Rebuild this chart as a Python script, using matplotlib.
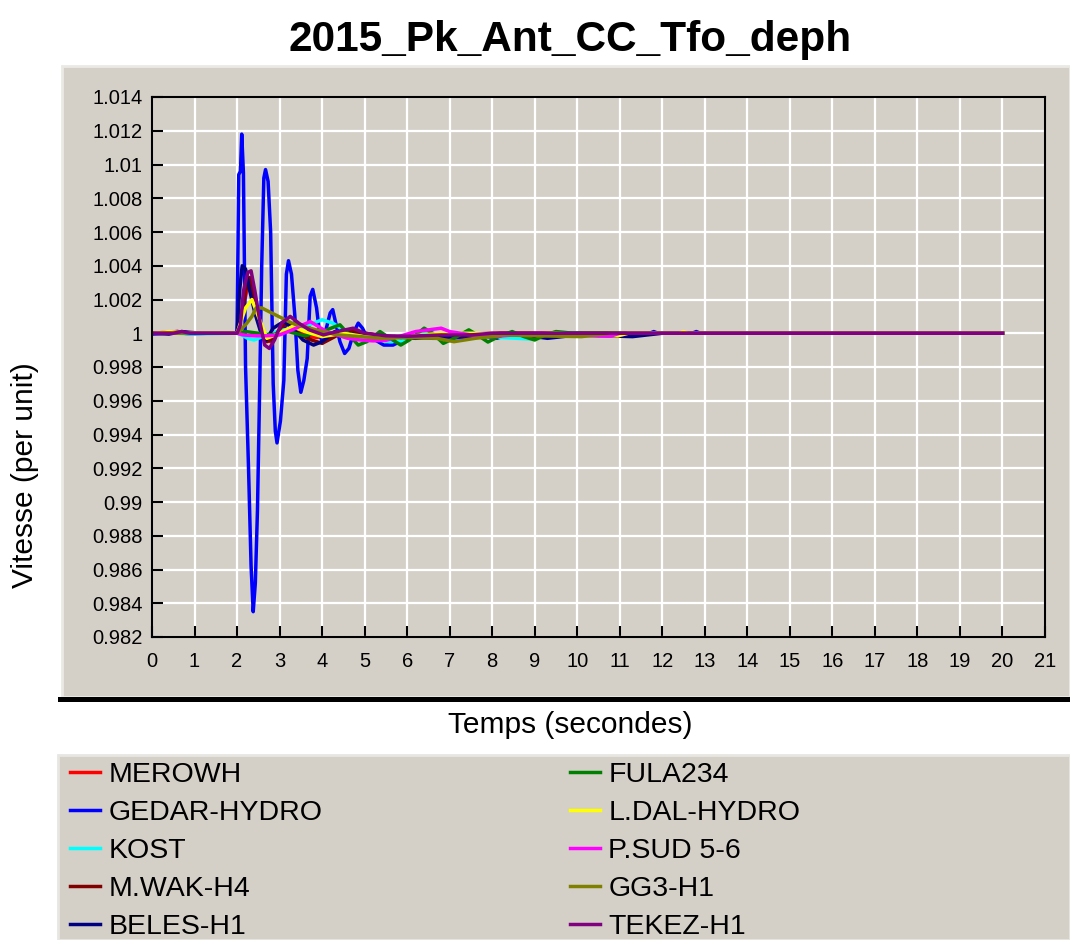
import matplotlib
matplotlib.use('Agg')
import matplotlib.pyplot as plt
from matplotlib.patches import Rectangle

plt.rcParams['font.family'] = ['Liberation Sans', 'DejaVu Sans']

W, H = 1070, 940

title = '2015_Pk_Ant_CC_Tfo_deph'
x_label = 'Temps (secondes)'
y_label = 'Vitesse (per unit)'

x_ticks = list(range(0, 22))
y_ticks = [0.982, 0.984, 0.986, 0.988, 0.99, 0.992, 0.994, 0.996, 0.998, 1.0,
           1.002, 1.004, 1.006, 1.008, 1.01, 1.012, 1.014]
y_tick_labels = ['0.982', '0.984', '0.986', '0.988', '0.99', '0.992', '0.994', '0.996', '0.998', '1',
                 '1.002', '1.004', '1.006', '1.008', '1.01', '1.012', '1.014']

names = ['MEROWH', 'GEDAR-HYDRO', 'KOST', 'M.WAK-H4', 'BELES-H1',
         'FULA234', 'L.DAL-HYDRO', 'P.SUD 5-6', 'GG3-H1', 'TEKEZ-H1']
colors = ['#ff0000', '#0000ff', '#00ffff', '#800000', '#000080',
          '#008000', '#ffff00', '#ff00ff', '#808000', '#800080']

# (time s, speed pu)
merowh = [(0, 1.0), (0.6, 1.0001), (0.9, 1.0), (2.0, 1.0), (2.12, 1.0012), (2.25, 1.0028),
          (2.35, 1.0025), (2.48, 1.0008), (2.65, 0.9996), (2.8, 0.9995), (3.0, 1.0002),
          (3.2, 1.0006), (3.45, 1.0001), (3.7, 0.9998), (3.9, 0.99975), (4.2, 0.9999),
          (4.6, 1.0001), (5.0, 1.0), (5.6, 0.9998), (6.3, 0.99978), (7.0, 0.9999), (8.0, 1.0),
          (20, 1.0)]
gedar = [(0, 0.99995), (0.3, 1.0), (0.6, 1.00005), (0.9, 0.99995), (1.3, 1.0), (2.0, 1.0),
         (2.04, 1.0094), (2.08, 1.0096), (2.11, 1.0118), (2.15, 1.0095), (2.2, 0.998),
         (2.27, 0.992), (2.33, 0.9862), (2.38, 0.9835), (2.43, 0.9852), (2.48, 0.9895),
         (2.53, 0.9965), (2.58, 1.004), (2.63, 1.0092), (2.67, 1.0097), (2.73, 1.009),
         (2.79, 1.006), (2.85, 0.997), (2.9, 0.9942), (2.94, 0.9935), (3.02, 0.9948),
         (3.1, 0.9972), (3.16, 1.0035), (3.21, 1.0043), (3.28, 1.0035), (3.36, 1.001),
         (3.43, 0.9978), (3.5, 0.9965), (3.57, 0.9972), (3.65, 0.9985), (3.72, 1.0022),
         (3.78, 1.0026), (3.87, 1.0015), (3.94, 1.0), (4.01, 0.99943), (4.1, 1.0003),
         (4.19, 1.0012), (4.25, 1.0014), (4.33, 1.0005), (4.42, 0.9995), (4.53, 0.9988),
         (4.63, 0.9991), (4.75, 1.0001), (4.85, 1.0006), (4.95, 1.0003), (5.05, 0.9998),
         (5.25, 0.9996), (5.45, 0.9993), (5.67, 0.9993), (5.9, 0.9996), (6.2, 0.9998),
         (6.6, 0.9997), (7.0, 0.9997), (7.5, 0.9998), (7.9, 0.9998), (8.1, 0.9997),
         (8.4, 0.9999), (9.0, 0.9999), (10.0, 1.0), (10.8, 0.99985), (11.15, 0.99984),
         (11.4, 1.0), (11.7, 1.0), (11.8, 1.0001), (11.9, 1.0), (12.7, 1.0), (12.8, 1.0001),
         (12.9, 1.0), (20, 1.0)]
kost = [(0, 1.0), (0.6, 1.0), (0.9, 0.99995), (2.0, 1.0), (2.1, 0.9999), (2.25, 0.9997),
        (2.4, 0.9996), (2.55, 0.99975), (2.8, 1.0), (3.1, 1.0002), (3.4, 1.0003), (3.7, 1.0005),
        (4.0, 1.0008), (4.25, 1.0006), (4.5, 1.0002), (4.8, 0.9998), (5.2, 0.99965),
        (5.6, 0.9995), (5.9, 0.99955), (6.3, 1.0), (6.5, 1.0001), (6.8, 0.99985), (7.3, 1.0),
        (7.6, 0.9999), (8.2, 0.99975), (8.9, 0.99966), (9.5, 1.00007), (10.0, 1.0),
        (11.0, 0.99985), (11.2, 0.99984), (11.5, 1.0), (20, 1.0)]
mwak = [(0, 1.0), (0.6, 1.0001), (0.9, 1.0), (2.0, 1.0), (2.1, 1.001), (2.2, 1.0025),
        (2.3, 1.0033), (2.4, 1.0022), (2.52, 1.0005), (2.7, 0.9995), (2.85, 0.9997),
        (3.05, 1.0004), (3.25, 1.0006), (3.5, 0.9999), (3.75, 0.9996), (4.0, 0.9994),
        (4.3, 0.9998), (4.6, 1.0002), (5.0, 1.0), (5.5, 0.9998), (6.0, 0.99975), (6.8, 0.9998),
        (7.5, 0.99985), (8.2, 1.0), (20, 1.0)]
beles = [(0, 1.0), (0.4, 0.99995), (0.7, 1.0001), (0.9, 1.00005), (1.2, 1.0), (2.0, 1.0),
         (2.06, 1.0025), (2.12, 1.004), (2.2, 1.0038), (2.3, 1.0025), (2.42, 1.0012),
         (2.54, 1.0002), (2.68, 0.9996), (2.85, 1.0003), (3.1, 1.0007), (3.3, 1.0003),
         (3.55, 0.9996), (3.8, 0.9993), (4.0, 0.9995), (4.3, 1.0001), (4.6, 1.0),
         (4.9, 0.99985), (5.3, 0.9997), (5.7, 0.9998), (6.2, 0.9997), (6.8, 0.9998),
         (7.3, 0.99985), (8.0, 0.9999), (8.5, 1.0), (9.0, 0.9998), (9.3, 0.9997),
         (10.0, 0.9999), (11.3, 0.9998), (12.0, 1.0), (20, 1.0)]
fula = [(0, 1.0), (0.9, 1.0), (2.0, 1.0), (2.2, 1.0001), (2.5, 1.0), (2.8, 0.9999),
        (3.2, 1.0001), (3.6, 0.99985), (4.0, 1.0001), (4.42, 1.0005), (4.6, 1.0),
        (4.85, 0.9993), (5.05, 0.9995), (5.36, 1.0001), (5.6, 0.9997), (5.85, 0.9993),
        (6.05, 0.9996), (6.4, 1.0003), (6.6, 1.0), (6.85, 0.9994), (7.1, 0.9997),
        (7.45, 1.0002), (7.65, 0.9999), (7.9, 0.99948), (8.15, 0.9998), (8.47, 1.0001),
        (8.75, 0.9998), (9.0, 0.9996), (9.25, 0.9999), (9.5, 1.0001), (9.9, 1.0), (20, 1.0)]
ldal = [(0, 1.0), (0.4, 1.0001), (0.9, 1.0), (2.0, 1.0), (2.2, 1.0015), (2.35, 1.002),
        (2.5, 1.001), (2.7, 0.9997), (3.0, 1.0), (3.3, 1.0004), (3.6, 1.0001), (4.0, 0.9998),
        (4.5, 1.0), (5.0, 0.9998), (5.5, 0.99975), (6.0, 0.9998), (6.8, 1.0), (7.6, 1.0),
        (8.3, 0.9999), (9.5, 1.0), (10.95, 0.99984), (11.2, 1.0), (12.4, 1.0), (12.5, 1.0001),
        (12.6, 1.0), (20, 1.0)]
psud = [(0, 1.0), (0.9, 1.0), (2.0, 1.0), (2.15, 0.9999), (2.4, 0.99985), (2.7, 0.99985),
        (3.0, 0.9999), (3.3, 1.0002), (3.55, 1.0005), (3.72, 1.00069), (3.85, 1.0005),
        (4.1, 1.0001), (4.35, 0.9999), (4.6, 0.9997), (4.9, 0.9996), (5.2, 0.99955),
        (5.5, 0.99958), (5.8, 0.9998), (6.2, 1.0001), (6.5, 1.0002), (6.8, 1.0003),
        (7.0, 1.0001), (7.5, 0.9999), (8.0, 0.9998), (8.5, 0.9999), (9.1, 1.0), (9.6, 0.9999),
        (10.5, 0.99984), (10.8, 0.99984), (11.0, 1.0), (20, 1.0)]
gg3 = [(0, 1.0), (0.5, 1.0), (0.9, 1.0), (2.0, 1.0), (2.2, 1.0005), (2.35, 1.001),
       (2.45, 1.0015), (2.58, 1.0015), (3.29, 1.0006), (4.0, 1.0001), (4.4, 0.9999),
       (4.9, 0.9998), (5.4, 0.9997), (6.0, 0.99975), (6.7, 0.9997), (7.1, 0.9995),
       (7.6, 0.9997), (8.3, 0.9999), (9.0, 0.99985), (10.1, 0.9998), (10.8, 1.0), (20, 1.0)]
tekez = [(0, 1.0), (0.5, 1.0), (0.7, 1.0001), (0.9, 1.0), (2.0, 1.0), (2.08, 1.0005),
         (2.15, 1.0025), (2.25, 1.0036), (2.33, 1.0037), (2.42, 1.0025), (2.55, 1.0005),
         (2.65, 0.9993), (2.76, 0.9991), (2.88, 0.9996), (3.05, 1.0006), (3.25, 1.001),
         (3.45, 1.0006), (3.7, 1.0002), (4.03, 0.9999), (4.35, 1.0001), (4.73, 1.0003),
         (5.0, 1.0), (5.5, 0.99985), (6.0, 0.99982), (6.8, 0.9999), (7.5, 0.9999), (8.0, 1.0),
         (20, 1.0)]

series = [merowh, gedar, kost, mwak, beles, fula, ldal, psud, gg3, tekez]

fig = plt.figure(figsize=(W / 100, H / 100), dpi=100)
fig.patch.set_facecolor('white')

# grey window panels, kept behind the axes
fig.patches.append(Rectangle((62 / W, 1 - 697 / H), (W - 62) / W, (697 - 66) / H,
                             transform=fig.transFigure, facecolor='#d4d0c8',
                             edgecolor='#ebe9e4', lw=2, zorder=-10))
fig.patches.append(Rectangle((58 / W, 1 - 702 / H), (W - 58) / W, 5 / H,
                             transform=fig.transFigure, facecolor='black', lw=0, zorder=-10))
fig.patches.append(Rectangle((58 / W, 0), (W - 58) / W, 185 / H,
                             transform=fig.transFigure, facecolor='#d4d0c8',
                             edgecolor='#e8e6e1', lw=2, zorder=-10))

ax = fig.add_axes([152 / W, 1 - 637 / H, 893 / W, 540 / H])
ax.set_facecolor('#d4d0c8')
ax.set_zorder(1)

handles = []
for data, name, c in zip(series, names, colors):
    t = [p[0] for p in data]
    v = [p[1] for p in data]
    line, = ax.plot(t, v, color=c, lw=2.5, label=name)
    handles.append(line)

ax.set_xlim(0, 21)
ax.set_ylim(0.982, 1.014)
ax.set_xticks(x_ticks)
ax.set_yticks(y_ticks)
ax.set_yticklabels(y_tick_labels)
ax.grid(color='white', lw=1.6)
ax.set_axisbelow(True)
ax.tick_params(direction='in', length=8, width=1.5, labelsize=14.5, colors='black')
ax.tick_params(axis='y', pad=7)
ax.tick_params(axis='x', pad=11)
for s in ax.spines.values():
    s.set_linewidth(1.5)
    s.set_color('black')

fig.text(570 / W, 1 - 40 / H, title, ha='center', va='center', fontsize=30.5, fontweight='bold')
fig.text(570 / W, 1 - 725 / H, x_label, ha='center', va='center', fontsize=21.5)
fig.text(25 / W, 1 - 475 / H, y_label, ha='center', va='center', rotation=90, fontsize=21.5)

leg_kw = dict(loc='upper left', frameon=False, fontsize=20.5, handlelength=1.05,
              handletextpad=0.3, labelspacing=0.42, borderpad=0, borderaxespad=0)
fig.legend(handles[:5], names[:5], bbox_to_anchor=(70 / W, 1 - 762 / H), **leg_kw)
fig.legend(handles[5:], names[5:], bbox_to_anchor=(570 / W, 1 - 762 / H), **leg_kw)

plt.savefig('out.png', dpi=100, facecolor=fig.get_facecolor())
